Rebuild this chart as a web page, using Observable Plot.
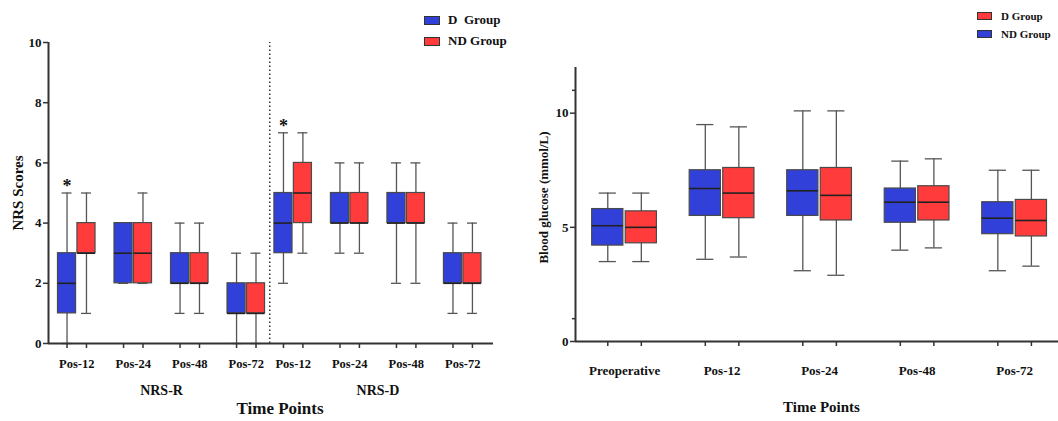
<!DOCTYPE html>
<html><head><meta charset="utf-8">
<script src="https://cdn.jsdelivr.net/npm/d3@7"></script>
<script src="https://cdn.jsdelivr.net/npm/@observablehq/plot@0.6"></script>
<style>
body{margin:0;background:#fff;}
#wrap{position:relative;width:1058px;height:421px;overflow:hidden;font-family:"Liberation Serif","Times New Roman",serif;font-weight:bold;color:#111;}
.chart{position:absolute;top:0;}
.item{position:absolute;display:flex;align-items:center;white-space:pre;height:14px;line-height:14px;}
.sw{display:inline-block;border:1px solid #333;box-sizing:border-box;}
</style></head><body><div id="wrap"></div>
<script>
// ---------- Left chart data: NRS scores ----------
const nrsSections = ["NRS-R", "NRS-D"];
const nrsTimes = ["Pos-12", "Pos-24", "Pos-48", "Pos-72"];
const nrsSeries = ["D  Group", "ND Group"];
// order: NRS-R Pos-12..Pos-72, NRS-D Pos-12..Pos-72
const nrsD_min = [0, 2, 1, 0, 2, 3, 2, 1];
const nrsD_q1  = [1, 2, 2, 1, 3, 4, 4, 2];
const nrsD_med = [2, 3, 2, 1, 4, 4, 4, 2];
const nrsD_q3  = [3, 4, 3, 2, 5, 5, 5, 3];
const nrsD_max = [5, 4, 4, 3, 7, 6, 6, 4];
const nrsND_min = [1, 2, 1, 0, 3, 3, 2, 1];
const nrsND_q1  = [3, 2, 2, 1, 4, 4, 4, 2];
const nrsND_med = [3, 3, 2, 1, 5, 4, 4, 2];
const nrsND_q3  = [4, 4, 3, 2, 6, 5, 5, 3];
const nrsND_max = [5, 5, 4, 3, 7, 6, 6, 4];
const nrsSignificant = [true, false, false, false, true, false, false, false]; // asterisk over D group
const nrsTicks = [0, 2, 4, 6, 8, 10];

// ---------- Right chart data: blood glucose ----------
const gluTimes = ["Preoperative", "Pos-12", "Pos-24", "Pos-48", "Pos-72"];
const gluSeries = ["ND Group", "D Group"]; // blue first, red second (as in legend)
const gluBlue_min = [3.5, 3.6, 3.1, 4.0, 3.1];
const gluBlue_q1  = [4.2, 5.5, 5.5, 5.2, 4.7];
const gluBlue_med = [5.07, 6.7, 6.6, 6.1, 5.4];
const gluBlue_q3  = [5.8, 7.5, 7.5, 6.7, 6.1];
const gluBlue_max = [6.5, 9.5, 10.1, 7.9, 7.5];
const gluRed_min = [3.5, 3.7, 2.9, 4.1, 3.3];
const gluRed_q1  = [4.3, 5.4, 5.3, 5.3, 4.6];
const gluRed_med = [5.0, 6.5, 6.4, 6.1, 5.3];
const gluRed_q3  = [5.7, 7.6, 7.6, 6.8, 6.2];
const gluRed_max = [6.5, 9.4, 10.1, 8.0, 7.5];
const gluTicks = [0, 5, 10];
const gluMinorTicks = [1, 11];

const BLUE = "#3040d8", RED = "#ff3b3b";
const FONT = '"Liberation Serif","Times New Roman",serif';

// layout helpers (in x units where one pair step = 1)
const OFF = 0.172, HW = 0.16, CAP = 0.088;

function rowsFrom(stats, color, pos, offset, extra) {
  return pos.map((p, i) => ({
    x: p + offset, min: stats[0][i], q1: stats[1][i], med: stats[2][i], q3: stats[3][i], max: stats[4][i],
    color, ...(extra ? extra(i) : {})
  }));
}

function boxMarks(rows) {
  return [
    Plot.ruleX(rows, {x: "x", y1: "min", y2: "max", stroke: "#555", strokeWidth: 1.3}),
    Plot.ruleY(rows, {y: "min", x1: d => d.x - CAP, x2: d => d.x + CAP, stroke: "#555", strokeWidth: 1.3}),
    Plot.ruleY(rows, {y: "max", x1: d => d.x - CAP, x2: d => d.x + CAP, stroke: "#555", strokeWidth: 1.3}),
    Plot.rect(rows, {x1: d => d.x - HW, x2: d => d.x + HW, y1: "q1", y2: "q3", fill: "color", stroke: "#4a4a4a", strokeWidth: 1.2}),
    Plot.ruleY(rows, {y: "med", x1: d => d.x - HW, x2: d => d.x + HW, stroke: "#222", strokeWidth: 1.6})
  ];
}

// ----- Left chart -----
const D_SECTION_START = 3.83;
const nrsPairPos = [];
const nrsLabels = [];
nrsSections.forEach((s, si) => nrsTimes.forEach((t, ti) => {
  nrsPairPos.push(ti + (si === 0 ? 0 : D_SECTION_START));
  nrsLabels.push(t);
}));
const nrsRowsD = rowsFrom([nrsD_min, nrsD_q1, nrsD_med, nrsD_q3, nrsD_max], BLUE, nrsPairPos, -OFF, i => ({sig: nrsSignificant[i]}));
const nrsRowsND = rowsFrom([nrsND_min, nrsND_q1, nrsND_med, nrsND_q3, nrsND_max], RED, nrsPairPos, OFF);
const nrsRows = nrsRowsD.concat(nrsRowsND);
const nrsXDomain = [-0.5, 7.375];
const nrsYDomain = [0, 10];
const sectionCenters = nrsSections.map((s, si) => ({label: s, x: 1.5 + (si === 0 ? 0 : D_SECTION_START)}));
const dividerX = (3 + D_SECTION_START) / 2;

const left = Plot.plot({
  width: 530, height: 421,
  marginLeft: 48, marginRight: 37, marginTop: 42, marginBottom: 78,
  x: {domain: nrsXDomain},
  y: {domain: nrsYDomain},
  color: {type: "identity"},
  style: {fontFamily: FONT, fontWeight: "bold", fontSize: "13px", color: "#111", background: "transparent"},
  marks: [
    Plot.ruleX([dividerX], {y1: nrsYDomain[0], y2: nrsYDomain[1], stroke: "#333", strokeWidth: 1.5, strokeDasharray: "1.5 2.5"}),
    ...boxMarks(nrsRows),
    Plot.text(nrsRows.filter(d => d.sig), {x: "x", y: "max", text: () => "*", fontSize: 18, dy: -7}),
    Plot.ruleX([nrsXDomain[0]], {y1: nrsYDomain[0], y2: nrsYDomain[1], stroke: "#333", strokeWidth: 2}),
    Plot.ruleY([nrsYDomain[0]], {x1: nrsXDomain[0], x2: nrsXDomain[1], stroke: "#333", strokeWidth: 2}),
    Plot.axisY({ticks: nrsTicks, tickSize: 5, tickPadding: 2, label: null, stroke: "#333", strokeWidth: 1.5, fontSize: 13}),
    Plot.axisX({ticks: nrsRows.map(d => d.x), tickFormat: () => "", tickSize: 5, label: null, stroke: "#333", strokeWidth: 1.5}),
    Plot.text(nrsPairPos.map((p, i) => ({x: p, label: nrsLabels[i]})), {x: "x", text: "label", frameAnchor: "bottom", dy: 24, fontSize: 12.5}),
    Plot.text(sectionCenters, {x: "x", text: "label", frameAnchor: "bottom", dy: 51, fontSize: 14}),
    Plot.text(["Time Points"], {frameAnchor: "bottom", dx: 9, dy: 70, fontSize: 17}),
    Plot.text(["NRS Scores"], {frameAnchor: "left", textAnchor: "middle", rotate: -90, dx: -30.5, fontSize: 15})
  ]
});
left.classList.add("chart");
left.style.left = "0px";

// ----- Right chart -----
const gluPairPos = gluTimes.map((t, i) => i);
const gluRowsBlue = rowsFrom([gluBlue_min, gluBlue_q1, gluBlue_med, gluBlue_q3, gluBlue_max], BLUE, gluPairPos, -OFF);
const gluRowsRed = rowsFrom([gluRed_min, gluRed_q1, gluRed_med, gluRed_q3, gluRed_max], RED, gluPairPos, OFF);
const gluRows = gluRowsBlue.concat(gluRowsRed);
const gluXDomain = [-0.503, 4.45];
const gluYDomain = [0, 12];

const right = Plot.plot({
  width: 528, height: 421,
  marginLeft: 45, marginRight: 0, marginTop: 67, marginBottom: 80,
  x: {domain: gluXDomain},
  y: {domain: gluYDomain},
  color: {type: "identity"},
  style: {fontFamily: FONT, fontWeight: "bold", fontSize: "13px", color: "#111", background: "transparent", overflow: "visible"},
  marks: [
    ...boxMarks(gluRows),
    Plot.ruleX([gluXDomain[0]], {y1: gluYDomain[0], y2: gluYDomain[1], stroke: "#333", strokeWidth: 2}),
    Plot.ruleY([gluYDomain[0]], {x1: gluXDomain[0], x2: gluXDomain[1], stroke: "#333", strokeWidth: 2}),
    Plot.axisY({ticks: gluTicks, tickSize: 5, tickPadding: 2, label: null, stroke: "#333", strokeWidth: 1.5, fontSize: 13}),
    Plot.axisY({ticks: gluMinorTicks, tickSize: 3, tickFormat: () => "", label: null, stroke: "#333", strokeWidth: 1.5}),
    Plot.axisX({ticks: gluRows.map(d => d.x), tickFormat: () => "", tickSize: 5, label: null, stroke: "#333", strokeWidth: 1.5}),
    Plot.text(gluPairPos.map((p, i) => ({x: p, label: gluTimes[i]})), {x: "x", text: "label", frameAnchor: "bottom", dy: 33, fontSize: 13}),
    Plot.text(["Time Points"], {frameAnchor: "bottom", dx: 4.5, dy: 70, fontSize: 15}),
    Plot.text(["Blood glucose (mmol/L)"], {frameAnchor: "left", textAnchor: "middle", rotate: -90, dx: -32, dy: -7, fontSize: 13})
  ]
});
right.classList.add("chart");
right.style.left = "530px";

const wrap = document.getElementById("wrap");
wrap.appendChild(left);
wrap.appendChild(right);

// ----- Legends (HTML, above/beside the plots) -----
function legend(items, x, ys, swW, swH, textX, fs) {
  items.forEach((it, i) => {
    const el = document.createElement("div");
    el.className = "item";
    el.style.left = x + "px";
    el.style.top = (ys[i] - 7) + "px";
    el.style.fontSize = fs + "px";
    const sw = document.createElement("span");
    sw.className = "sw";
    sw.style.width = swW + "px";
    sw.style.height = swH + "px";
    sw.style.background = it.color;
    sw.style.marginRight = (textX - x - swW) + "px";
    el.appendChild(sw);
    el.appendChild(document.createTextNode(it.label));
    wrap.appendChild(el);
  });
}
legend([{label: nrsSeries[0], color: BLUE}, {label: nrsSeries[1], color: RED}], 424, [20, 41], 16, 9, 448, 13);
legend([{label: gluSeries[1], color: RED}, {label: gluSeries[0], color: BLUE}], 977, [16, 34], 15, 8, 1001, 11);
</script></body></html>
